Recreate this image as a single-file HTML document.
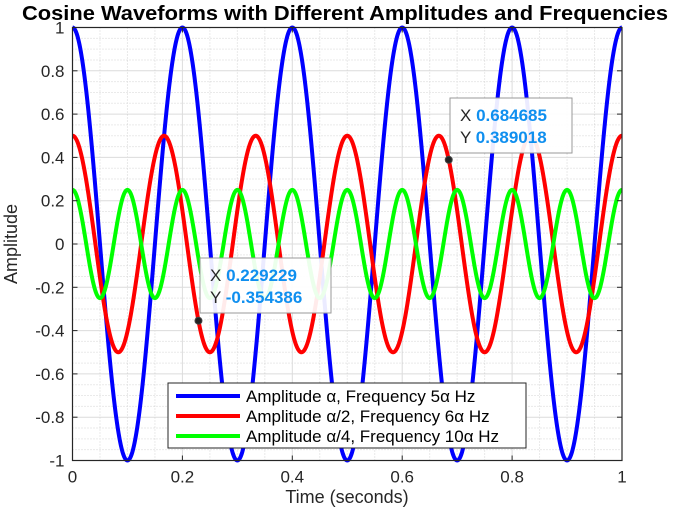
<!DOCTYPE html>
<html><head><meta charset="utf-8"><style>
body{margin:0;background:#fff;width:673px;height:515px;overflow:hidden;font-family:"Liberation Sans",sans-serif}
</style></head><body>
<svg id="chart" width="673" height="515" xmlns="http://www.w3.org/2000/svg" font-family="Liberation Sans, sans-serif">
<text x="345" y="20" text-anchor="middle" font-size="20" font-weight="bold" textLength="646" lengthAdjust="spacingAndGlyphs">Cosine Waveforms with Different Amplitudes and Frequencies</text>
<g id="grid"></g><g id="series"></g><g id="axes"></g><g id="tips"></g><g id="legend"></g>
<text x="347" y="503" text-anchor="middle" font-size="18" fill="#262626">Time (seconds)</text>
<text transform="translate(17,244) rotate(-90)" text-anchor="middle" font-size="18" fill="#262626">Amplitude</text>
</svg>
<script>
const amplitudes=[1,0.5,0.25];
const frequencies=[5,6,10];
const colors=['#0000ff','#ff0000','#00ff00'];
const labels=['Amplitude α, Frequency 5α Hz','Amplitude α/2, Frequency 6α Hz','Amplitude α/4, Frequency 10α Hz'];
const xTicks=[0,0.2,0.4,0.6,0.8,1];
const yTicks=[-1,-0.8,-0.6,-0.4,-0.2,0,0.2,0.4,0.6,0.8,1];
const tipX=[0.229229,0.684685];
const tipY=[-0.354386,0.389018];
const NS='http://www.w3.org/2000/svg';
const L=72.5,R=622,T=27.5,B=460.5;
const sx=v=>L+v*(R-L), sy=v=>B-(v+1)/2*(B-T);
function mk(tag,attrs,parent){const e=document.createElementNS(NS,tag);for(const k in attrs)e.setAttribute(k,attrs[k]);parent.appendChild(e);return e;}
const grid=document.getElementById('grid');
for(let i=0;i<=20;i++){const v=i*0.05;const x=sx(v);
 const g=mk('line',{x1:x,x2:x,y1:T,y2:B,stroke:i%4==0?'#dcdcdc':'#d4d4d4','stroke-dasharray':i%4==0?'':'1,2'},grid);
 }
for(let i=0;i<=40;i++){const v=-1+i*0.05;const y=sy(v);
 const g=mk('line',{x1:L,x2:R,y1:y,y2:y,stroke:i%4==0?'#dcdcdc':'#d4d4d4','stroke-dasharray':i%4==0?'':'1,2'},grid);
 }
const ser=document.getElementById('series');
amplitudes.forEach((a,k)=>{let d='';for(let i=0;i<=1000;i++){const t=i/1000;d+=(i?'L':'M')+sx(t).toFixed(2)+','+sy(a*Math.cos(2*Math.PI*frequencies[k]*t)).toFixed(2);}
 const p=mk('path',{d:d,fill:'none',stroke:colors[k],'stroke-width':4},ser);
 });
const ax=document.getElementById('axes');
const box=mk('rect',{x:L,y:T,width:R-L,height:B-T,fill:'none',stroke:'#262626','stroke-width':1.2},ax);

xTicks.forEach(v=>{const x=sx(v);mk('line',{x1:x,x2:x,y1:B,y2:B-5,stroke:'#262626'},ax);mk('line',{x1:x,x2:x,y1:T,y2:T+5,stroke:'#262626'},ax);
 const t=mk('text',{x:x,y:B+22,'text-anchor':'middle','font-size':17,fill:'#262626'},ax);t.textContent=String(v);
 });
yTicks.forEach(v=>{const y=sy(v);mk('line',{x1:L,x2:L+5,y1:y,y2:y,stroke:'#262626'},ax);mk('line',{x1:R,x2:R-5,y1:y,y2:y,stroke:'#262626'},ax);
 const t=mk('text',{x:L-8,y:y+6,'text-anchor':'end','font-size':17,fill:'#262626'},ax);t.textContent=String(v);
 });
const tips=document.getElementById('tips');
const tipBox=[[200,258,131,55],[450,98,122,55]];
tipX.forEach((xv,i)=>{const g=mk('g',{},tips);
 const [bx,by,bw,bh]=tipBox[i];
 mk('rect',{x:bx,y:by,width:bw,height:bh,fill:'#fff','fill-opacity':0.92,stroke:'#999'},g);
 mk('circle',{cx:sx(xv),cy:sy(tipY[i]),r:3.5,fill:'#222',stroke:'#444'},g);
 const t1=mk('text',{x:bx+10,y:by+23,'font-size':17,fill:'#262626'},g);t1.innerHTML='X <tspan fill="#0f8fef" font-weight="bold">'+xv+'</tspan>';
 const t2=mk('text',{x:bx+10,y:by+45,'font-size':17,fill:'#262626'},g);t2.innerHTML='Y <tspan fill="#0f8fef" font-weight="bold">'+tipY[i]+'</tspan>';});
const lg=document.getElementById('legend');
const lb=mk('rect',{x:168,y:383,width:358,height:65,fill:'#fff',stroke:'#262626'},lg);

labels.forEach((s,i)=>{const y=396+i*20;const g=mk('g',{},lg);
 mk('line',{x1:176,x2:240,y1:y,y2:y,stroke:colors[i],'stroke-width':4},g);
 const t=mk('text',{x:246,y:y+6,'font-size':17,fill:'#000'},g);t.textContent=s;});
</script>
</body></html>
